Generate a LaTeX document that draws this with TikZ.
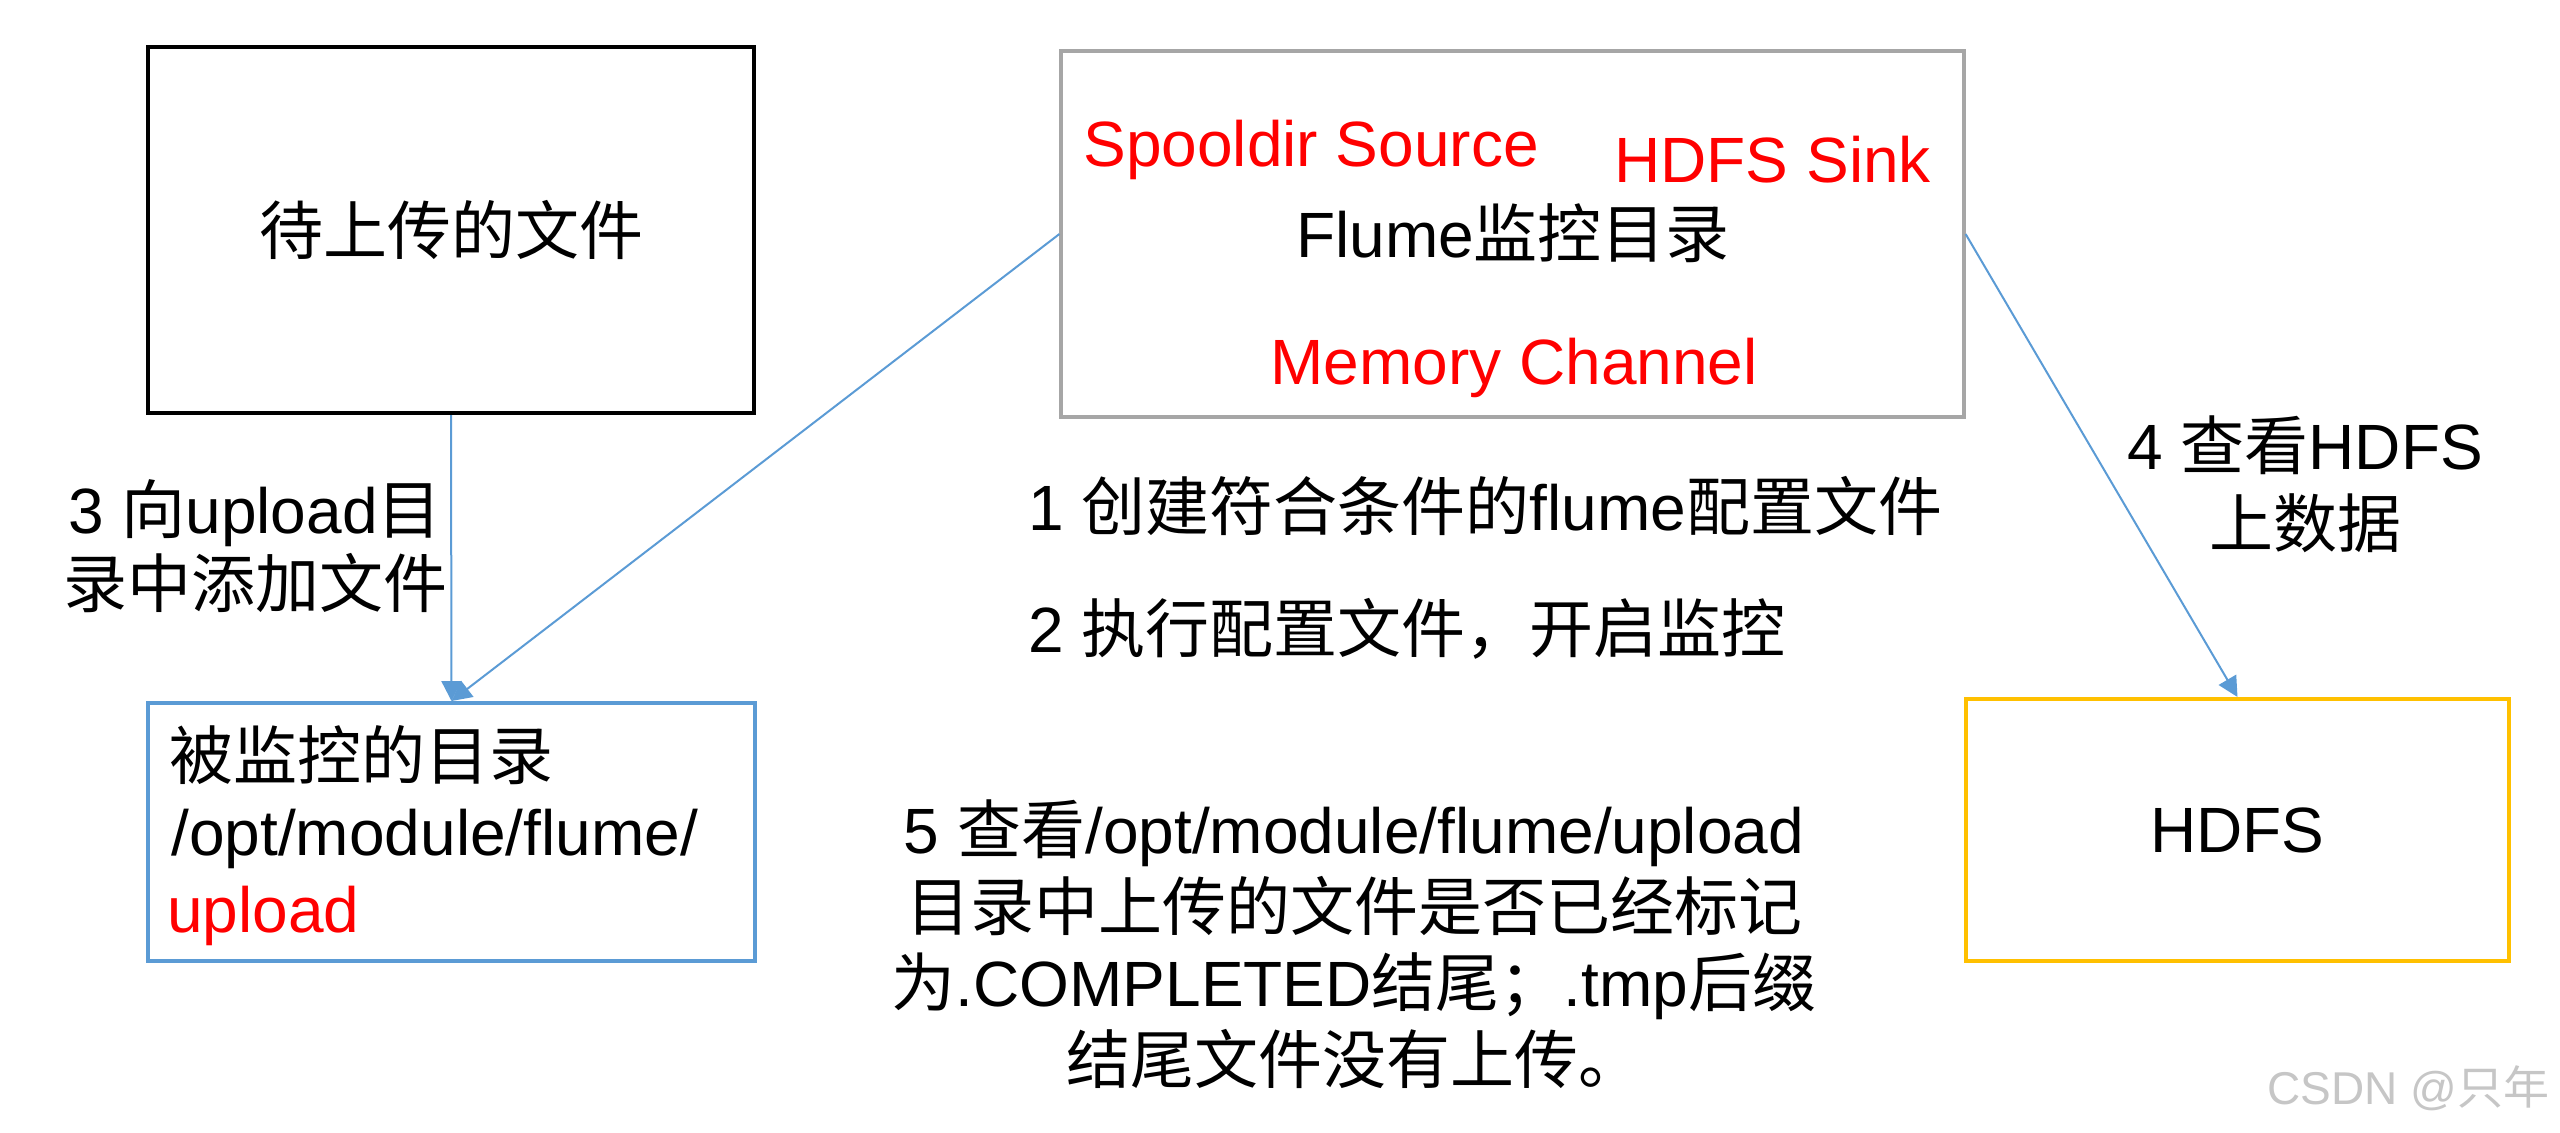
\documentclass[tikz,border=0pt]{standalone}
\usepackage{fontspec}
\setmainfont{Liberation Sans}
\newfontfamily\cjk{Noto Sans CJK SC}
\usetikzlibrary{arrows.meta}
\definecolor{lineblue}{HTML}{5B9BD5}
\definecolor{boxgray}{HTML}{A6A6A6}
\definecolor{boxyellow}{HTML}{FFC000}
\begin{document}
\begin{tikzpicture}[>={Triangle[length=10pt,width=10pt]},x=0.5pt,y=-0.5pt,
	box/.style={draw,line width=2pt,inner sep=0pt},
	lbl/.style={inner sep=0pt,font=\fontsize{32}{38.5}\selectfont},
	link/.style={->,draw=lineblue,fill=lineblue,line width=1pt}]
	\useasboundingbox (0,0) rectangle (2560,1132);
	% boxes
	\node[box,lbl,minimum width=303pt,minimum height=183pt] (files) at (451,230) {{\cjk 待上传的文件}};
	\node[box,draw=boxgray,line width=1.6pt,minimum width=451.5pt,minimum height=183pt] (flume) at (1512.5,234) {};
	\node[box,draw=lineblue,minimum width=303.5pt,minimum height=129pt] (upload) at (451.5,832) {};
	\node[box,lbl,draw=boxyellow,minimum width=271.5pt,minimum height=131pt] (hdfs) at (2237.5,830) {HDFS};
	% texts in the flume box
	\node[lbl,anchor=base west,text=red] (source) at (1083,166) {Spooldir Source};
	\node[lbl,anchor=base west,text=red] (sink) at (1614,182) {HDFS Sink};
	\node[lbl,anchor=base] (flumetxt) at (1513,257) {Flume{\cjk 监控目录}};
	\node[lbl,anchor=base west,text=red] (channel) at (1270,384) {Memory Channel};
	% texts in the upload box
	\node[lbl,anchor=base west] (dir1) at (169,779) {{\cjk 被监控的目录}};
	\node[lbl,anchor=base west] (dir2) at (171,855) {/opt/module/flume/};
	\node[lbl,anchor=base west,text=red] (dir3) at (167,932) {upload};
	% steps
	\node[lbl,anchor=base] (step3a) at (255,533) {3 {\cjk 向}upload{\cjk 目}};
	\node[lbl,anchor=base] (step3b) at (255,607) {{\cjk 录中添加文件}};
	\node[lbl,anchor=base west] (step1) at (1028,530) {1 {\cjk 创建符合条件的}flume{\cjk 配置文件}};
	\node[lbl,anchor=base west] (step2) at (1028,652) {2 {\cjk 执行配置文件，开启监控}};
	\node[lbl,anchor=base] (step4a) at (2305,469) {4 {\cjk 查看}HDFS};
	\node[lbl,anchor=base] (step4b) at (2305,547) {{\cjk 上数据}};
	\node[lbl,anchor=base] (step5a) at (1354,853) {5 {\cjk 查看}/opt/module/flume/upload};
	\node[lbl,anchor=base] (step5b) at (1354,930) {{\cjk 目录中上传的文件是否已经标记}};
	\node[lbl,anchor=base] (step5c) at (1354,1006) {{\cjk 为}.COMPLETED{\cjk 结尾；}.tmp{\cjk 后缀}};
	\node[lbl,anchor=base] (step5d) at (1354,1083) {{\cjk 结尾文件没有上传。}};
	\node[inner sep=0pt,anchor=base west,text=gray!45,font=\fontsize{23}{28}\selectfont] (mark) at (2267,1104) {CSDN @{\cjk 只年}};
	% arrows
	\draw[link] (files.south) -- (upload.north);
	\draw[link] (flume.west) -- (upload.north);
	\draw[link] (flume.east) -- (hdfs.north);
\end{tikzpicture}
\end{document}
